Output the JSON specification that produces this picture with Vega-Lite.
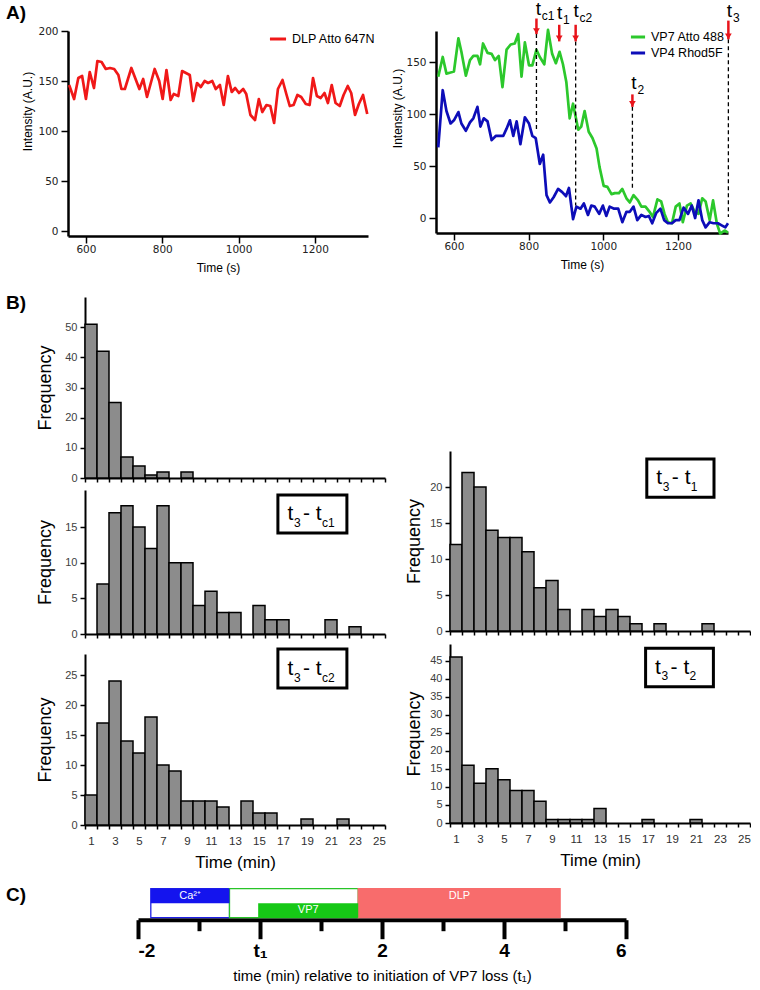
{
"$schema": "https://vega.github.io/schema/vega-lite/v6.json",
"padding": {"left": 5, "top": 0, "right": 0, "bottom": 0},
"background": "white",
"spacing": 20,
"config": {
  "view": {"stroke": null},
  "axis": {"grid": false, "domainColor": "black", "tickColor": "black", "labelColor": "#222222", "titleColor": "black", "titleFontWeight": "normal", "labelFont": "Liberation Sans", "titleFont": "Liberation Sans"},
  "legend": {"labelFont": "Liberation Sans"},
  "text": {"font": "Liberation Sans"}
},
"datasets": {
  "dlp": [
    {"time":556,"intensity":146,"series":"DLP Atto 647N"},{"time":569,"intensity":132,"series":"DLP Atto 647N"},{"time":580,"intensity":153,"series":"DLP Atto 647N"},{"time":590,"intensity":155,"series":"DLP Atto 647N"},{"time":600,"intensity":132,"series":"DLP Atto 647N"},{"time":610,"intensity":159,"series":"DLP Atto 647N"},{"time":621,"intensity":143,"series":"DLP Atto 647N"},{"time":630,"intensity":170,"series":"DLP Atto 647N"},{"time":641,"intensity":169,"series":"DLP Atto 647N"},{"time":652,"intensity":162,"series":"DLP Atto 647N"},{"time":663,"intensity":163,"series":"DLP Atto 647N"},{"time":674,"intensity":162,"series":"DLP Atto 647N"},{"time":685,"intensity":156,"series":"DLP Atto 647N"},{"time":693,"intensity":142,"series":"DLP Atto 647N"},{"time":702,"intensity":142,"series":"DLP Atto 647N"},{"time":719,"intensity":163,"series":"DLP Atto 647N"},{"time":740,"intensity":142,"series":"DLP Atto 647N"},{"time":750,"intensity":152,"series":"DLP Atto 647N"},{"time":760,"intensity":134,"series":"DLP Atto 647N"},{"time":780,"intensity":162,"series":"DLP Atto 647N"},{"time":792,"intensity":150,"series":"DLP Atto 647N"},{"time":801,"intensity":132,"series":"DLP Atto 647N"},{"time":811,"intensity":161,"series":"DLP Atto 647N"},{"time":822,"intensity":131,"series":"DLP Atto 647N"},{"time":830,"intensity":137,"series":"DLP Atto 647N"},{"time":842,"intensity":135,"series":"DLP Atto 647N"},{"time":852,"intensity":160,"series":"DLP Atto 647N"},{"time":862,"intensity":158,"series":"DLP Atto 647N"},{"time":872,"intensity":156,"series":"DLP Atto 647N"},{"time":881,"intensity":130,"series":"DLP Atto 647N"},{"time":891,"intensity":148,"series":"DLP Atto 647N"},{"time":901,"intensity":144,"series":"DLP Atto 647N"},{"time":911,"intensity":150,"series":"DLP Atto 647N"},{"time":920,"intensity":148,"series":"DLP Atto 647N"},{"time":931,"intensity":150,"series":"DLP Atto 647N"},{"time":940,"intensity":142,"series":"DLP Atto 647N"},{"time":951,"intensity":146,"series":"DLP Atto 647N"},{"time":961,"intensity":126,"series":"DLP Atto 647N"},{"time":972,"intensity":155,"series":"DLP Atto 647N"},{"time":982,"intensity":139,"series":"DLP Atto 647N"},{"time":991,"intensity":143,"series":"DLP Atto 647N"},{"time":1001,"intensity":138,"series":"DLP Atto 647N"},{"time":1012,"intensity":142,"series":"DLP Atto 647N"},{"time":1020,"intensity":137,"series":"DLP Atto 647N"},{"time":1031,"intensity":116,"series":"DLP Atto 647N"},{"time":1043,"intensity":111,"series":"DLP Atto 647N"},{"time":1053,"intensity":132,"series":"DLP Atto 647N"},{"time":1062,"intensity":119,"series":"DLP Atto 647N"},{"time":1073,"intensity":126,"series":"DLP Atto 647N"},{"time":1083,"intensity":125,"series":"DLP Atto 647N"},{"time":1093,"intensity":108,"series":"DLP Atto 647N"},{"time":1103,"intensity":142,"series":"DLP Atto 647N"},{"time":1115,"intensity":151,"series":"DLP Atto 647N"},{"time":1125,"intensity":137,"series":"DLP Atto 647N"},{"time":1134,"intensity":125,"series":"DLP Atto 647N"},{"time":1144,"intensity":126,"series":"DLP Atto 647N"},{"time":1154,"intensity":136,"series":"DLP Atto 647N"},{"time":1164,"intensity":134,"series":"DLP Atto 647N"},{"time":1176,"intensity":127,"series":"DLP Atto 647N"},{"time":1186,"intensity":126,"series":"DLP Atto 647N"},{"time":1195,"intensity":153,"series":"DLP Atto 647N"},{"time":1205,"intensity":135,"series":"DLP Atto 647N"},{"time":1215,"intensity":133,"series":"DLP Atto 647N"},{"time":1225,"intensity":138,"series":"DLP Atto 647N"},{"time":1234,"intensity":128,"series":"DLP Atto 647N"},{"time":1244,"intensity":146,"series":"DLP Atto 647N"},{"time":1254,"intensity":128,"series":"DLP Atto 647N"},{"time":1265,"intensity":125,"series":"DLP Atto 647N"},{"time":1275,"intensity":136,"series":"DLP Atto 647N"},{"time":1286,"intensity":145,"series":"DLP Atto 647N"},{"time":1295,"intensity":138,"series":"DLP Atto 647N"},{"time":1305,"intensity":116,"series":"DLP Atto 647N"},{"time":1315,"intensity":127,"series":"DLP Atto 647N"},{"time":1326,"intensity":136,"series":"DLP Atto 647N"},{"time":1337,"intensity":117,"series":"DLP Atto 647N"}
  ],
  "vp": [
    {"time":558,"intensity":136,"series":"VP7 Atto 488"},{"time":570,"intensity":155,"series":"VP7 Atto 488"},{"time":580,"intensity":139,"series":"VP7 Atto 488"},{"time":591,"intensity":140,"series":"VP7 Atto 488"},{"time":600,"intensity":141,"series":"VP7 Atto 488"},{"time":612,"intensity":173,"series":"VP7 Atto 488"},{"time":620,"intensity":160,"series":"VP7 Atto 488"},{"time":632,"intensity":137,"series":"VP7 Atto 488"},{"time":643,"intensity":152,"series":"VP7 Atto 488"},{"time":652,"intensity":156,"series":"VP7 Atto 488"},{"time":663,"intensity":156,"series":"VP7 Atto 488"},{"time":670,"intensity":148,"series":"VP7 Atto 488"},{"time":678,"intensity":168,"series":"VP7 Atto 488"},{"time":690,"intensity":159,"series":"VP7 Atto 488"},{"time":701,"intensity":158,"series":"VP7 Atto 488"},{"time":710,"intensity":152,"series":"VP7 Atto 488"},{"time":720,"intensity":156,"series":"VP7 Atto 488"},{"time":730,"intensity":126,"series":"VP7 Atto 488"},{"time":741,"intensity":162,"series":"VP7 Atto 488"},{"time":752,"intensity":167,"series":"VP7 Atto 488"},{"time":763,"intensity":168,"series":"VP7 Atto 488"},{"time":772,"intensity":177,"series":"VP7 Atto 488"},{"time":781,"intensity":136,"series":"VP7 Atto 488"},{"time":790,"intensity":169,"series":"VP7 Atto 488"},{"time":801,"intensity":147,"series":"VP7 Atto 488"},{"time":810,"intensity":147,"series":"VP7 Atto 488"},{"time":821,"intensity":162,"series":"VP7 Atto 488"},{"time":830,"intensity":155,"series":"VP7 Atto 488"},{"time":842,"intensity":148,"series":"VP7 Atto 488"},{"time":852,"intensity":181,"series":"VP7 Atto 488"},{"time":863,"intensity":158,"series":"VP7 Atto 488"},{"time":873,"intensity":149,"series":"VP7 Atto 488"},{"time":883,"intensity":160,"series":"VP7 Atto 488"},{"time":892,"intensity":148,"series":"VP7 Atto 488"},{"time":901,"intensity":131,"series":"VP7 Atto 488"},{"time":910,"intensity":96,"series":"VP7 Atto 488"},{"time":919,"intensity":110,"series":"VP7 Atto 488"},{"time":933,"intensity":85,"series":"VP7 Atto 488"},{"time":941,"intensity":88,"series":"VP7 Atto 488"},{"time":950,"intensity":103,"series":"VP7 Atto 488"},{"time":961,"intensity":83,"series":"VP7 Atto 488"},{"time":971,"intensity":77,"series":"VP7 Atto 488"},{"time":982,"intensity":67,"series":"VP7 Atto 488"},{"time":990,"intensity":49,"series":"VP7 Atto 488"},{"time":1001,"intensity":31,"series":"VP7 Atto 488"},{"time":1011,"intensity":30,"series":"VP7 Atto 488"},{"time":1022,"intensity":23,"series":"VP7 Atto 488"},{"time":1031,"intensity":24,"series":"VP7 Atto 488"},{"time":1042,"intensity":24,"series":"VP7 Atto 488"},{"time":1051,"intensity":28,"series":"VP7 Atto 488"},{"time":1062,"intensity":19,"series":"VP7 Atto 488"},{"time":1071,"intensity":15,"series":"VP7 Atto 488"},{"time":1081,"intensity":22,"series":"VP7 Atto 488"},{"time":1093,"intensity":17,"series":"VP7 Atto 488"},{"time":1102,"intensity":11,"series":"VP7 Atto 488"},{"time":1113,"intensity":11,"series":"VP7 Atto 488"},{"time":1124,"intensity":6,"series":"VP7 Atto 488"},{"time":1133,"intensity":1,"series":"VP7 Atto 488"},{"time":1145,"intensity":18,"series":"VP7 Atto 488"},{"time":1155,"intensity":16,"series":"VP7 Atto 488"},{"time":1164,"intensity":4,"series":"VP7 Atto 488"},{"time":1173,"intensity":-4,"series":"VP7 Atto 488"},{"time":1184,"intensity":-5,"series":"VP7 Atto 488"},{"time":1194,"intensity":11,"series":"VP7 Atto 488"},{"time":1204,"intensity":14,"series":"VP7 Atto 488"},{"time":1213,"intensity":-4,"series":"VP7 Atto 488"},{"time":1224,"intensity":12,"series":"VP7 Atto 488"},{"time":1234,"intensity":14,"series":"VP7 Atto 488"},{"time":1245,"intensity":6,"series":"VP7 Atto 488"},{"time":1255,"intensity":4,"series":"VP7 Atto 488"},{"time":1265,"intensity":19,"series":"VP7 Atto 488"},{"time":1274,"intensity":16,"series":"VP7 Atto 488"},{"time":1285,"intensity":-2,"series":"VP7 Atto 488"},{"time":1294,"intensity":17,"series":"VP7 Atto 488"},{"time":1304,"intensity":-5,"series":"VP7 Atto 488"},{"time":1313,"intensity":-15,"series":"VP7 Atto 488"},{"time":1325,"intensity":-12,"series":"VP7 Atto 488"},{"time":1334,"intensity":-14,"series":"VP7 Atto 488"},
    {"time":558,"intensity":68,"series":"VP4 Rhod5F"},{"time":570,"intensity":123,"series":"VP4 Rhod5F"},{"time":580,"intensity":103,"series":"VP4 Rhod5F"},{"time":591,"intensity":91,"series":"VP4 Rhod5F"},{"time":600,"intensity":94,"series":"VP4 Rhod5F"},{"time":612,"intensity":102,"series":"VP4 Rhod5F"},{"time":620,"intensity":91,"series":"VP4 Rhod5F"},{"time":632,"intensity":84,"series":"VP4 Rhod5F"},{"time":643,"intensity":92,"series":"VP4 Rhod5F"},{"time":652,"intensity":96,"series":"VP4 Rhod5F"},{"time":663,"intensity":107,"series":"VP4 Rhod5F"},{"time":671,"intensity":88,"series":"VP4 Rhod5F"},{"time":680,"intensity":96,"series":"VP4 Rhod5F"},{"time":690,"intensity":93,"series":"VP4 Rhod5F"},{"time":701,"intensity":75,"series":"VP4 Rhod5F"},{"time":712,"intensity":79,"series":"VP4 Rhod5F"},{"time":723,"intensity":79,"series":"VP4 Rhod5F"},{"time":732,"intensity":79,"series":"VP4 Rhod5F"},{"time":741,"intensity":86,"series":"VP4 Rhod5F"},{"time":750,"intensity":94,"series":"VP4 Rhod5F"},{"time":759,"intensity":79,"series":"VP4 Rhod5F"},{"time":768,"intensity":93,"series":"VP4 Rhod5F"},{"time":778,"intensity":71,"series":"VP4 Rhod5F"},{"time":790,"intensity":97,"series":"VP4 Rhod5F"},{"time":801,"intensity":91,"series":"VP4 Rhod5F"},{"time":810,"intensity":79,"series":"VP4 Rhod5F"},{"time":819,"intensity":77,"series":"VP4 Rhod5F"},{"time":830,"intensity":52,"series":"VP4 Rhod5F"},{"time":839,"intensity":61,"series":"VP4 Rhod5F"},{"time":848,"intensity":22,"series":"VP4 Rhod5F"},{"time":857,"intensity":15,"series":"VP4 Rhod5F"},{"time":867,"intensity":20,"series":"VP4 Rhod5F"},{"time":879,"intensity":28,"series":"VP4 Rhod5F"},{"time":890,"intensity":25,"series":"VP4 Rhod5F"},{"time":900,"intensity":21,"series":"VP4 Rhod5F"},{"time":908,"intensity":29,"series":"VP4 Rhod5F"},{"time":919,"intensity":-1,"series":"VP4 Rhod5F"},{"time":928,"intensity":11,"series":"VP4 Rhod5F"},{"time":939,"intensity":9,"series":"VP4 Rhod5F"},{"time":948,"intensity":14,"series":"VP4 Rhod5F"},{"time":959,"intensity":3,"series":"VP4 Rhod5F"},{"time":968,"intensity":12,"series":"VP4 Rhod5F"},{"time":977,"intensity":11,"series":"VP4 Rhod5F"},{"time":989,"intensity":4,"series":"VP4 Rhod5F"},{"time":999,"intensity":12,"series":"VP4 Rhod5F"},{"time":1008,"intensity":2,"series":"VP4 Rhod5F"},{"time":1017,"intensity":11,"series":"VP4 Rhod5F"},{"time":1029,"intensity":9,"series":"VP4 Rhod5F"},{"time":1040,"intensity":9,"series":"VP4 Rhod5F"},{"time":1051,"intensity":-4,"series":"VP4 Rhod5F"},{"time":1062,"intensity":6,"series":"VP4 Rhod5F"},{"time":1071,"intensity":6,"series":"VP4 Rhod5F"},{"time":1081,"intensity":11,"series":"VP4 Rhod5F"},{"time":1091,"intensity":-2,"series":"VP4 Rhod5F"},{"time":1102,"intensity":3,"series":"VP4 Rhod5F"},{"time":1113,"intensity":1,"series":"VP4 Rhod5F"},{"time":1122,"intensity":2,"series":"VP4 Rhod5F"},{"time":1131,"intensity":-5,"series":"VP4 Rhod5F"},{"time":1142,"intensity":5,"series":"VP4 Rhod5F"},{"time":1153,"intensity":9,"series":"VP4 Rhod5F"},{"time":1163,"intensity":-2,"series":"VP4 Rhod5F"},{"time":1173,"intensity":-5,"series":"VP4 Rhod5F"},{"time":1184,"intensity":-5,"series":"VP4 Rhod5F"},{"time":1194,"intensity":-2,"series":"VP4 Rhod5F"},{"time":1204,"intensity":-2,"series":"VP4 Rhod5F"},{"time":1215,"intensity":10,"series":"VP4 Rhod5F"},{"time":1227,"intensity":4,"series":"VP4 Rhod5F"},{"time":1237,"intensity":12,"series":"VP4 Rhod5F"},{"time":1246,"intensity":0,"series":"VP4 Rhod5F"},{"time":1255,"intensity":17,"series":"VP4 Rhod5F"},{"time":1265,"intensity":-2,"series":"VP4 Rhod5F"},{"time":1274,"intensity":-9,"series":"VP4 Rhod5F"},{"time":1285,"intensity":-4,"series":"VP4 Rhod5F"},{"time":1295,"intensity":-5,"series":"VP4 Rhod5F"},{"time":1307,"intensity":-5,"series":"VP4 Rhod5F"},{"time":1317,"intensity":-7,"series":"VP4 Rhod5F"},{"time":1327,"intensity":-9,"series":"VP4 Rhod5F"},{"time":1334,"intensity":-5,"series":"VP4 Rhod5F"}
  ],
  "tlabels": [
    {"time":826,"level":195,"sub":"c1"},{"time":883,"level":192,"sub":"1"},{"time":927,"level":193,"sub":"c2"},{"time":1082,"level":124,"sub":"2"},{"time":1338,"level":193,"sub":"3"}
  ],
  "arrows": [
    {"time":821,"top":192,"tip":177,"dash":85.6},{"time":882,"top":186,"tip":170,"dash":null},{"time":926,"top":186,"tip":170,"dash":12},{"time":1078,"top":119,"tip":107,"dash":27},{"time":1335,"top":190,"tip":172,"dash":1}
  ],
  "hist": [
    {"panel":"L1","bin":1,"n":51},{"panel":"L1","bin":2,"n":42},{"panel":"L1","bin":3,"n":25},{"panel":"L1","bin":4,"n":7},{"panel":"L1","bin":5,"n":4},{"panel":"L1","bin":6,"n":1},{"panel":"L1","bin":7,"n":2},{"panel":"L1","bin":9,"n":2},
    {"panel":"L2","bin":2,"n":7},{"panel":"L2","bin":3,"n":17},{"panel":"L2","bin":4,"n":18},{"panel":"L2","bin":5,"n":15},{"panel":"L2","bin":6,"n":12},{"panel":"L2","bin":7,"n":18},{"panel":"L2","bin":8,"n":10},{"panel":"L2","bin":9,"n":10},{"panel":"L2","bin":10,"n":4},{"panel":"L2","bin":11,"n":6},{"panel":"L2","bin":12,"n":3},{"panel":"L2","bin":13,"n":3},{"panel":"L2","bin":15,"n":4},{"panel":"L2","bin":16,"n":2},{"panel":"L2","bin":17,"n":2},{"panel":"L2","bin":21,"n":2},{"panel":"L2","bin":23,"n":1},
    {"panel":"L3","bin":1,"n":5},{"panel":"L3","bin":2,"n":17},{"panel":"L3","bin":3,"n":24},{"panel":"L3","bin":4,"n":14},{"panel":"L3","bin":5,"n":12},{"panel":"L3","bin":6,"n":18},{"panel":"L3","bin":7,"n":10},{"panel":"L3","bin":8,"n":9},{"panel":"L3","bin":9,"n":4},{"panel":"L3","bin":10,"n":4},{"panel":"L3","bin":11,"n":4},{"panel":"L3","bin":12,"n":3},{"panel":"L3","bin":14,"n":4},{"panel":"L3","bin":15,"n":2},{"panel":"L3","bin":16,"n":2},{"panel":"L3","bin":19,"n":1},{"panel":"L3","bin":22,"n":1},
    {"panel":"R2","bin":1,"n":12},{"panel":"R2","bin":2,"n":22},{"panel":"R2","bin":3,"n":20},{"panel":"R2","bin":4,"n":14},{"panel":"R2","bin":5,"n":13},{"panel":"R2","bin":6,"n":13},{"panel":"R2","bin":7,"n":11},{"panel":"R2","bin":8,"n":6},{"panel":"R2","bin":9,"n":7},{"panel":"R2","bin":10,"n":3},{"panel":"R2","bin":12,"n":3},{"panel":"R2","bin":13,"n":2},{"panel":"R2","bin":14,"n":3},{"panel":"R2","bin":15,"n":2},{"panel":"R2","bin":16,"n":1},{"panel":"R2","bin":18,"n":1},{"panel":"R2","bin":22,"n":1},
    {"panel":"R3","bin":1,"n":46},{"panel":"R3","bin":2,"n":16},{"panel":"R3","bin":3,"n":11},{"panel":"R3","bin":4,"n":15},{"panel":"R3","bin":5,"n":12},{"panel":"R3","bin":6,"n":9},{"panel":"R3","bin":7,"n":9},{"panel":"R3","bin":8,"n":6},{"panel":"R3","bin":9,"n":1},{"panel":"R3","bin":10,"n":1},{"panel":"R3","bin":11,"n":1},{"panel":"R3","bin":12,"n":1},{"panel":"R3","bin":13,"n":4},{"panel":"R3","bin":17,"n":1},{"panel":"R3","bin":21,"n":1}
  ],
  "boxes": [
    {"panel":"L2","x0":0.643,"x1":0.873,"y0":0.701,"y1":0.965,"sub":"c1"},
    {"panel":"L3","x0":0.643,"x1":0.873,"y0":0.801,"y1":1.029,"sub":"c2"},
    {"panel":"R2","x0":0.656,"x1":0.88,"y0":0.743,"y1":0.956,"sub":"1"},
    {"panel":"R3","x0":0.652,"x1":0.878,"y0":0.761,"y1":0.976,"sub":"2"}
  ],
  "phases": [
    {"phase":"Ca2+","start":-1.79,"end":-0.5},{"phase":"VP7","start":-0.5,"end":1.61},{"phase":"DLP","start":1.61,"end":4.92}
  ],
  "signals": [
    {"phase":"Ca2+","band":"upper","start":-1.79,"end":-0.5},{"phase":"VP7","band":"lower","start":-0.03,"end":1.61}
  ],
  "ctext": [
    {"label":"Ca²⁺","mid":-1.145,"band":"upper"},{"label":"VP7","mid":0.79,"band":"lower"},{"label":"DLP","mid":3.27,"band":"upper"}
  ]
},
"vconcat": [
  {
    "spacing": 0,
    "hconcat": [
      {"width": 1, "height": 1, "data": {"values": []}, "mark": "point"},
      {
        "bounds": "flush",
        "spacing": 68,
        "resolve": {"scale": {"color": "independent"}, "legend": {"color": "independent"}},
        "hconcat": [
          {
            "width": 300, "height": 205,
            "title": {"text": "A)", "anchor": "start", "frame": "group", "dx": -62, "dy": 12, "offset": 0, "baseline": "alphabetic", "fontSize": 19, "fontWeight": "bold", "font": "Liberation Sans", "color": "black"},
            "data": {"name": "dlp"},
            "mark": {"type": "line", "strokeWidth": 2.7, "strokeJoin": "round"},
            "encoding": {
              "x": {"field": "time", "type": "quantitative", "scale": {"domain": [553, 1339], "nice": false, "zero": false},
                    "axis": {"values": [600, 800, 1000, 1200], "format": "d", "title": "Time (s)", "labelFont": "DejaVu Sans", "labelFontSize": 10.5, "tickSize": 7, "tickWidth": 1.5, "domainWidth": 2.5, "labelPadding": 1, "titlePadding": 8, "titleFontSize": 12}},
              "y": {"field": "intensity", "type": "quantitative", "scale": {"domain": [-5, 200], "nice": false, "zero": false},
                    "axis": {"values": [0, 50, 100, 150, 200], "format": "d", "title": "Intensity (A.U.)", "labelFont": "DejaVu Sans", "labelFontSize": 10.5, "tickSize": 7, "tickWidth": 1.5, "domainWidth": 2.5, "labelPadding": 3, "titleFontSize": 12, "titleX": -41, "titleY": 80, "titleBaseline": "middle"}},
              "color": {"field": "series", "type": "nominal", "scale": {"domain": ["DLP Atto 647N"], "range": ["#f01818"]},
                        "legend": {"orient": "none", "legendX": 200, "legendY": -2, "title": null, "symbolType": "stroke", "symbolStrokeWidth": 3, "symbolSize": 260, "labelFontSize": 12.5, "labelColor": "black", "padding": 0}}
            }
          },
          {
            "width": 292, "height": 202,
            "encoding": {
              "x": {"field": "time", "type": "quantitative", "scale": {"domain": [552, 1334], "nice": false, "zero": false},
                    "axis": {"values": [600, 800, 1000, 1200], "format": "d", "title": "Time (s)", "labelFont": "DejaVu Sans", "labelFontSize": 10.5, "tickSize": 7, "tickWidth": 1.5, "domainWidth": 2.5, "labelPadding": 1, "titlePadding": 8, "titleFontSize": 12}}
            },
            "layer": [
              {
                "data": {"name": "vp"},
                "mark": {"type": "line", "strokeWidth": 2.7, "strokeJoin": "round"},
                "encoding": {
                  "y": {"field": "intensity", "type": "quantitative", "scale": {"domain": [-14.4, 180], "nice": false, "zero": false},
                        "axis": {"values": [0, 50, 100, 150], "format": "d", "title": "Intensity (A.U.)", "labelFont": "DejaVu Sans", "labelFontSize": 10.5, "tickSize": 7, "tickWidth": 1.5, "domainWidth": 2.5, "labelPadding": 3, "titleFontSize": 12, "titleX": -39, "titleY": 77, "titleBaseline": "middle"}},
                  "color": {"field": "series", "type": "nominal", "scale": {"domain": ["VP7 Atto 488", "VP4 Rhod5F"], "range": ["#2cc82c", "#0d0db8"]},
                            "legend": {"orient": "none", "legendX": 193, "legendY": -3, "title": null, "symbolType": "stroke", "symbolStrokeWidth": 3, "symbolSize": 200, "labelFontSize": 12.5, "labelColor": "black", "padding": 0, "rowPadding": -3}}
                }
              },
              {
                "data": {"name": "arrows"},
                "transform": [{"filter": "isValid(datum.dash)"}],
                "mark": {"type": "rule", "strokeDash": [4, 3], "strokeWidth": 1.3, "color": "black"},
                "encoding": {
                  "y": {"field": "tip", "type": "quantitative", "scale": {"domain": [-14.4, 180], "nice": false, "zero": false}},
                  "y2": {"field": "dash"}
                }
              },
              {
                "data": {"name": "arrows"},
                "mark": {"type": "rule", "strokeWidth": 2.5, "color": "#e8141b"},
                "encoding": {
                  "y": {"field": "top", "type": "quantitative", "scale": {"domain": [-14.4, 180], "nice": false, "zero": false}},
                  "y2": {"field": "tip"}
                }
              },
              {
                "data": {"name": "arrows"},
                "mark": {"type": "point", "shape": "triangle-down", "filled": true, "size": 45, "color": "#e8141b", "opacity": 1, "yOffset": -3},
                "encoding": {
                  "y": {"field": "tip", "type": "quantitative", "scale": {"domain": [-14.4, 180], "nice": false, "zero": false}}
                }
              },
              {
                "data": {"name": "tlabels"},
                "mark": {"type": "text", "text": "t", "fontSize": 19, "align": "center", "baseline": "alphabetic", "color": "black"},
                "encoding": {
                  "y": {"field": "level", "type": "quantitative", "scale": {"domain": [-14.4, 180], "nice": false, "zero": false}}
                }
              },
              {
                "data": {"name": "tlabels"},
                "mark": {"type": "text", "fontSize": 12, "align": "left", "baseline": "alphabetic", "dx": 3.5, "dy": 5, "color": "black"},
                "encoding": {
                  "y": {"field": "level", "type": "quantitative", "scale": {"domain": [-14.4, 180], "nice": false, "zero": false}},
                  "text": {"field": "sub"}
                }
              }
            ]
          }
        ]
      }
    ]
  },
  {
    "spacing": 14.7,
    "vconcat": [
      {
        "spacing": 0,
        "hconcat": [
          {"width": 1, "height": 1, "data": {"values": []}, "mark": "point"},
          {
            "spacing": 19,
            "hconcat": [
              {
                "spacing": 7,
                "vconcat": [
                  {
                    "width": 300, "height": 181,
                    "title": {"text": "B)", "anchor": "start", "frame": "group", "dx": -79, "dy": 31, "offset": 0, "baseline": "alphabetic", "fontSize": 19, "fontWeight": "bold", "font": "Liberation Sans", "color": "black"},
                    "data": {"name": "hist"},
                    "transform": [{"filter": "datum.panel == 'L1'"}],
                    "mark": {"type": "bar", "fill": "#8c8c8c", "stroke": "black", "strokeWidth": 1.5},
                    "encoding": {
                      "x": {"field": "bin", "type": "ordinal", "scale": {"domain": [1,2,3,4,5,6,7,8,9,10,11,12,13,14,15,16,17,18,19,20,21,22,23,24,25], "paddingInner": 0, "paddingOuter": 0},
                            "axis": {"labels": false, "title": null, "tickBand": "extent", "tickSize": 4, "tickWidth": 1.5, "domainWidth": 2}},
                      "y": {"field": "n", "type": "quantitative", "scale": {"domain": [0, 60], "nice": false},
                            "axis": {"values": [0,10,20,30,40,50], "title": "Frequency", "tickSize": 5, "tickWidth": 1.5, "domainWidth": 2, "labelFontSize": 11, "labelColor": "#404040", "labelPadding": 3, "titleFontSize": 18, "titleX": -40, "titleBaseline": "middle"}}
                    }
                  },
                  {
                    "bounds": "flush",
                    "spacing": 20,
                    "vconcat": [
                      {
                        "width": 300, "height": 144,
                        "layer": [
                          {
                            "data": {"name": "hist"},
                            "transform": [{"filter": "datum.panel == 'L2'"}],
                            "mark": {"type": "bar", "fill": "#8c8c8c", "stroke": "black", "strokeWidth": 1.5},
                            "encoding": {
                              "x": {"field": "bin", "type": "ordinal", "scale": {"domain": [1,2,3,4,5,6,7,8,9,10,11,12,13,14,15,16,17,18,19,20,21,22,23,24,25], "paddingInner": 0, "paddingOuter": 0},
                                    "axis": {"labels": false, "title": null, "tickBand": "extent", "tickSize": 4, "tickWidth": 1.5, "domainWidth": 2}},
                              "y": {"field": "n", "type": "quantitative", "scale": {"domain": [0, 20.2], "nice": false},
                                    "axis": {"values": [0,5,10,15], "title": "Frequency", "tickSize": 5, "tickWidth": 1.5, "domainWidth": 2, "labelFontSize": 11, "labelColor": "#404040", "labelPadding": 3, "titleFontSize": 18, "titleX": -40, "titleBaseline": "middle"}}
                            }
                          },
                          {
                            "data": {"name": "boxes"},
                            "transform": [{"filter": "datum.panel == 'L2'"}],
                            "encoding": {
                              "x": {"field": "x0", "type": "quantitative", "scale": {"domain": [0, 1], "nice": false, "zero": false}, "axis": null},
                              "y": {"field": "y0", "type": "quantitative", "scale": {"domain": [0, 1], "nice": false, "zero": false}, "axis": null}
                            },
                            "layer": [
                              {"mark": {"type": "rect", "fill": "white", "stroke": "black", "strokeWidth": 3}, "encoding": {"x2": {"field": "x1"}, "y2": {"field": "y1"}}},
                              {"mark": {"type": "text", "text": "t", "fontSize": 21, "align": "left", "baseline": "alphabetic", "dx": 9.5, "dy": -13, "color": "black"}},
                              {"mark": {"type": "text", "text": "3", "fontSize": 12, "align": "left", "baseline": "alphabetic", "dx": 16, "dy": -6.5, "color": "black"}},
                              {"mark": {"type": "text", "text": "- t", "fontSize": 21, "align": "left", "baseline": "alphabetic", "dx": 25, "dy": -13, "color": "black"}},
                              {"mark": {"type": "text", "fontSize": 12, "align": "left", "baseline": "alphabetic", "dx": 44, "dy": -6.5, "color": "black"}, "encoding": {"text": {"field": "sub"}}}
                            ]
                          }
                        ],
                        "resolve": {"scale": {"x": "independent", "y": "independent"}}
                      },
                      {
                        "width": 300, "height": 171,
                        "layer": [
                          {
                            "data": {"name": "hist"},
                            "transform": [{"filter": "datum.panel == 'L3'"}],
                            "mark": {"type": "bar", "fill": "#8c8c8c", "stroke": "black", "strokeWidth": 1.5},
                            "encoding": {
                              "x": {"field": "bin", "type": "ordinal", "scale": {"domain": [1,2,3,4,5,6,7,8,9,10,11,12,13,14,15,16,17,18,19,20,21,22,23,24,25], "paddingInner": 0, "paddingOuter": 0},
                                    "axis": {"title": "Time (min)", "labelExpr": "datum.value % 2 == 1 ? datum.label : ''", "labelAngle": 0, "tickBand": "extent", "tickSize": 4, "tickWidth": 1.5, "domainWidth": 2, "labelFontSize": 11.5, "labelColor": "#303030", "labelPadding": 6, "titleFontSize": 17, "titlePadding": 8}},
                              "y": {"field": "n", "type": "quantitative", "scale": {"domain": [0, 28.5], "nice": false},
                                    "axis": {"values": [0,5,10,15,20,25], "title": "Frequency", "tickSize": 5, "tickWidth": 1.5, "domainWidth": 2, "labelFontSize": 11, "labelColor": "#404040", "labelPadding": 3, "titleFontSize": 18, "titleX": -40, "titleBaseline": "middle"}}
                            }
                          },
                          {
                            "data": {"name": "boxes"},
                            "transform": [{"filter": "datum.panel == 'L3'"}],
                            "encoding": {
                              "x": {"field": "x0", "type": "quantitative", "scale": {"domain": [0, 1], "nice": false, "zero": false}, "axis": null},
                              "y": {"field": "y0", "type": "quantitative", "scale": {"domain": [0, 1], "nice": false, "zero": false}, "axis": null}
                            },
                            "layer": [
                              {"mark": {"type": "rect", "fill": "white", "stroke": "black", "strokeWidth": 3}, "encoding": {"x2": {"field": "x1"}, "y2": {"field": "y1"}}},
                              {"mark": {"type": "text", "text": "t", "fontSize": 21, "align": "left", "baseline": "alphabetic", "dx": 9.5, "dy": -13, "color": "black"}},
                              {"mark": {"type": "text", "text": "3", "fontSize": 12, "align": "left", "baseline": "alphabetic", "dx": 16, "dy": -6.5, "color": "black"}},
                              {"mark": {"type": "text", "text": "- t", "fontSize": 21, "align": "left", "baseline": "alphabetic", "dx": 25, "dy": -13, "color": "black"}},
                              {"mark": {"type": "text", "fontSize": 12, "align": "left", "baseline": "alphabetic", "dx": 44, "dy": -6.5, "color": "black"}, "encoding": {"text": {"field": "sub"}}}
                            ]
                          }
                        ],
                        "resolve": {"scale": {"x": "independent", "y": "independent"}}
                      }
                    ]
                  }
                ]
              },
              {
                "bounds": "flush",
                "spacing": 13,
                "vconcat": [
                  {"width": 1, "height": 141, "data": {"values": []}, "mark": "point"},
                  {
                    "width": 300, "height": 180,
                    "layer": [
                      {
                        "data": {"name": "hist"},
                        "transform": [{"filter": "datum.panel == 'R2'"}],
                        "mark": {"type": "bar", "fill": "#8c8c8c", "stroke": "black", "strokeWidth": 1.5},
                        "encoding": {
                          "x": {"field": "bin", "type": "ordinal", "scale": {"domain": [1,2,3,4,5,6,7,8,9,10,11,12,13,14,15,16,17,18,19,20,21,22,23,24,25], "paddingInner": 0, "paddingOuter": 0},
                                "axis": {"labels": false, "title": null, "tickBand": "extent", "tickSize": 4, "tickWidth": 1.5, "domainWidth": 2}},
                          "y": {"field": "n", "type": "quantitative", "scale": {"domain": [0, 25], "nice": false},
                                "axis": {"values": [0,5,10,15,20], "title": "Frequency", "tickSize": 5, "tickWidth": 1.5, "domainWidth": 2, "labelFontSize": 11, "labelColor": "#404040", "labelPadding": 3, "titleFontSize": 18, "titleX": -36, "titleBaseline": "middle"}}
                        }
                      },
                      {
                        "data": {"name": "boxes"},
                        "transform": [{"filter": "datum.panel == 'R2'"}],
                        "encoding": {
                          "x": {"field": "x0", "type": "quantitative", "scale": {"domain": [0, 1], "nice": false, "zero": false}, "axis": null},
                          "y": {"field": "y0", "type": "quantitative", "scale": {"domain": [0, 1], "nice": false, "zero": false}, "axis": null}
                        },
                        "layer": [
                          {"mark": {"type": "rect", "fill": "white", "stroke": "black", "strokeWidth": 3}, "encoding": {"x2": {"field": "x1"}, "y2": {"field": "y1"}}},
                          {"mark": {"type": "text", "text": "t", "fontSize": 21, "align": "left", "baseline": "alphabetic", "dx": 9.5, "dy": -13, "color": "black"}},
                          {"mark": {"type": "text", "text": "3", "fontSize": 12, "align": "left", "baseline": "alphabetic", "dx": 16, "dy": -6.5, "color": "black"}},
                          {"mark": {"type": "text", "text": "- t", "fontSize": 21, "align": "left", "baseline": "alphabetic", "dx": 25, "dy": -13, "color": "black"}},
                          {"mark": {"type": "text", "fontSize": 12, "align": "left", "baseline": "alphabetic", "dx": 44, "dy": -6.5, "color": "black"}, "encoding": {"text": {"field": "sub"}}}
                        ]
                      }
                    ],
                    "resolve": {"scale": {"x": "independent", "y": "independent"}}
                  },
                  {
                    "width": 300, "height": 179,
                    "layer": [
                      {
                        "data": {"name": "hist"},
                        "transform": [{"filter": "datum.panel == 'R3'"}],
                        "mark": {"type": "bar", "fill": "#8c8c8c", "stroke": "black", "strokeWidth": 1.5},
                        "encoding": {
                          "x": {"field": "bin", "type": "ordinal", "scale": {"domain": [1,2,3,4,5,6,7,8,9,10,11,12,13,14,15,16,17,18,19,20,21,22,23,24,25], "paddingInner": 0, "paddingOuter": 0},
                                "axis": {"title": "Time (min)", "labelExpr": "datum.value % 2 == 1 ? datum.label : ''", "labelAngle": 0, "tickBand": "extent", "tickSize": 4, "tickWidth": 1.5, "domainWidth": 2, "labelFontSize": 11.5, "labelColor": "#303030", "labelPadding": 6, "titleFontSize": 17, "titlePadding": 8}},
                          "y": {"field": "n", "type": "quantitative", "scale": {"domain": [0, 49.6], "nice": false},
                                "axis": {"values": [0,5,10,15,20,25,30,35,40,45], "title": "Frequency", "tickSize": 5, "tickWidth": 1.5, "domainWidth": 2, "labelFontSize": 11, "labelColor": "#404040", "labelPadding": 3, "titleFontSize": 18, "titleX": -36, "titleBaseline": "middle"}}
                        }
                      },
                      {
                        "data": {"name": "boxes"},
                        "transform": [{"filter": "datum.panel == 'R3'"}],
                        "encoding": {
                          "x": {"field": "x0", "type": "quantitative", "scale": {"domain": [0, 1], "nice": false, "zero": false}, "axis": null},
                          "y": {"field": "y0", "type": "quantitative", "scale": {"domain": [0, 1], "nice": false, "zero": false}, "axis": null}
                        },
                        "layer": [
                          {"mark": {"type": "rect", "fill": "white", "stroke": "black", "strokeWidth": 3}, "encoding": {"x2": {"field": "x1"}, "y2": {"field": "y1"}}},
                          {"mark": {"type": "text", "text": "t", "fontSize": 21, "align": "left", "baseline": "alphabetic", "dx": 9.5, "dy": -13, "color": "black"}},
                          {"mark": {"type": "text", "text": "3", "fontSize": 12, "align": "left", "baseline": "alphabetic", "dx": 16, "dy": -6.5, "color": "black"}},
                          {"mark": {"type": "text", "text": "- t", "fontSize": 21, "align": "left", "baseline": "alphabetic", "dx": 25, "dy": -13, "color": "black"}},
                          {"mark": {"type": "text", "fontSize": 12, "align": "left", "baseline": "alphabetic", "dx": 44, "dy": -6.5, "color": "black"}, "encoding": {"text": {"field": "sub"}}}
                        ]
                      }
                    ],
                    "resolve": {"scale": {"x": "independent", "y": "independent"}}
                  }
                ]
              }
            ]
          }
        ]
      },
      {
        "spacing": 0,
        "hconcat": [
          {"width": 1, "height": 1, "data": {"values": []}, "mark": "point"},
          {
            "width": 488, "height": 29,
            "title": {"text": "C)", "anchor": "start", "frame": "group", "dx": -132, "dy": 32, "offset": 0, "baseline": "alphabetic", "fontSize": 19, "fontWeight": "bold", "font": "Liberation Sans", "color": "black"},
            "layer": [
              {
                "data": {"name": "phases"},
                "mark": {"type": "rect", "strokeWidth": 1.3},
                "encoding": {
                  "x": {"field": "start", "type": "quantitative", "scale": {"domain": [-2, 6], "nice": false, "zero": false},
                        "axis": {"values": [-2,-1,0,1,2,3,4,5,6], "format": "d", "offset": 2, "domainWidth": 4, "tickWidth": 4,
                                 "tickSize": {"condition": {"test": "datum.value % 2 === 0", "value": 19}, "value": 11},
                                 "labelExpr": "datum.value === 0 ? 't₁' : (datum.value % 2 === 0 ? replace(datum.label, '−', '-') : '')",
                                 "labelFont": "Liberation Sans Narrow, Liberation Sans", "labelFontWeight": "bold", "labelFontSize": 19, "labelColor": "black", "labelPadding": 3,
                                 "title": "time (min) relative to initiation of VP7 loss (t₁)", "titleFont": "Liberation Sans Narrow, Liberation Sans", "titleFontSize": 15, "titlePadding": 8}},
                  "x2": {"field": "end"},
                  "fill": {"field": "phase", "type": "nominal", "scale": {"domain": ["Ca2+", "VP7", "DLP"], "range": ["#ffffff", "#ffffff", "#f86c6c"]}, "legend": null},
                  "stroke": {"field": "phase", "type": "nominal", "scale": {"domain": ["Ca2+", "VP7", "DLP"], "range": ["#2020e6", "#28c428", "#f86c6c"]}, "legend": null}
                }
              },
              {
                "data": {"name": "signals"},
                "mark": {"type": "rect"},
                "encoding": {
                  "x": {"field": "start", "type": "quantitative", "scale": {"domain": [-2, 6], "nice": false, "zero": false}},
                  "x2": {"field": "end"},
                  "y": {"field": "band", "type": "nominal", "scale": {"domain": ["upper", "lower"], "paddingInner": 0, "paddingOuter": 0}, "axis": null},
                  "fill": {"field": "phase", "type": "nominal", "scale": {"domain": ["Ca2+", "VP7"], "range": ["#1414ee", "#16c816"]}, "legend": null}
                }
              },
              {
                "data": {"name": "ctext"},
                "mark": {"type": "text", "color": "white", "fontSize": 11, "font": "Liberation Sans Narrow, Liberation Sans"},
                "encoding": {
                  "x": {"field": "mid", "type": "quantitative", "scale": {"domain": [-2, 6], "nice": false, "zero": false}},
                  "y": {"field": "band", "type": "nominal", "scale": {"domain": ["upper", "lower"], "paddingInner": 0, "paddingOuter": 0}, "axis": null},
                  "text": {"field": "label"}
                }
              }
            ],
            "resolve": {"scale": {"fill": "independent", "stroke": "independent"}}
          }
        ]
      }
    ]
  }
]
}
